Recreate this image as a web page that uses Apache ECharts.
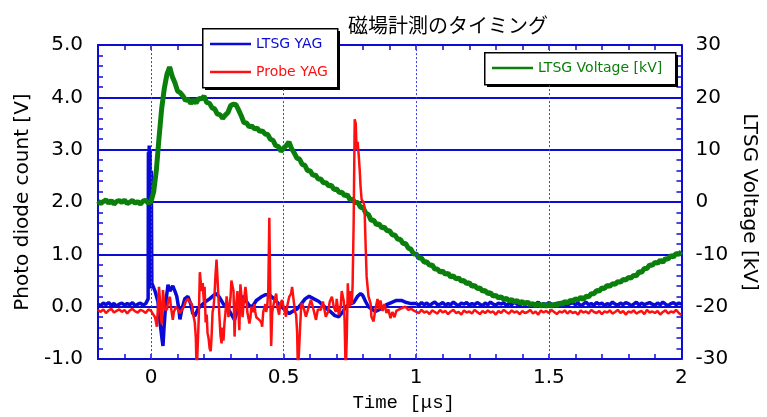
<!DOCTYPE html>
<html>
<head>
<meta charset="utf-8">
<script src="https://cdn.jsdelivr.net/npm/echarts@6/dist/echarts.min.js"></script>
<style>
  html, body { margin: 0; padding: 0; background: #fff; }
  #chart { width: 767px; height: 417px; }
</style>
</head>
<body>
<div id="chart"></div>
<script>
// Oscilloscope traces around the LTSG firing, sampled every 10 ns outside the bursts.
const SAMPLE_STEP = 0.01;            // µs
const TRACE_START = -0.2;            // µs
const TAIL_START = 1.0;              // µs

const timeTickLabels = [0, 0.5, 1, 1.5, 2];
const timeGridLines = [0, 0.5, 1, 1.5];

// LTSG charging voltage [kV], one sample per 10 ns from -0.2 µs to 2.0 µs
const ltsgVoltageKV = [
  0.2, -0.3, 0.1, 0.4, -0.2, 0.3, -0.4, 0.1, 0.3, -0.1, 0.4, -0.3, 0.0, 0.3, -0.2, 0.1, -0.4, 0.2, 0.3, -0.2, 0.1,
  2.0, 6.1, 12.2, 17.8, 21.7, 24.4, 25.8, 24.0, 22.8, 21.2,
  20.9, 20.3, 19.4, 19.7, 18.8, 19.5, 18.9, 19.8, 19.7, 20.2,
  19.0, 18.9, 18.0, 17.8, 16.8, 16.7, 16.0, 16.6, 17.1, 18.4,
  18.7, 18.6, 17.6, 16.5, 15.2, 15.1, 14.4, 14.5, 14.0, 14.1,
  13.5, 13.6, 13.0, 12.9, 12.0, 11.8, 10.8, 10.6, 9.7, 10.3,
  10.8, 11.5, 10.2, 9.4, 8.4, 8.2, 7.2, 7.0, 6.0, 6.0,
  5.1, 5.2, 4.4, 4.4, 3.7, 3.7, 3.1, 3.2, 2.4, 2.5,
  1.8, 1.9, 1.2, 1.4, 0.5, 0.5, -0.1, -0.1, -1.0, -1.1,
  -2.1, -2.4, -3.5, -3.5, -4.3, -4.2, -4.9, -4.8, -5.5, -5.5,
  -6.3, -6.3, -7.1, -7.1, -7.9, -7.9, -8.8, -9.0, -9.9, -9.9,
  -10.7, -10.7, -11.5, -11.4, -12.1, -12.0, -12.8, -12.8, -13.4, -13.2,
  -13.8, -13.6, -14.3, -14.1, -14.7, -14.5, -15.1, -15.0, -15.6, -15.4,
  -16.1, -15.9, -16.5, -16.4, -17.0, -16.9, -17.5, -17.3, -18.0, -17.8,
  -18.3, -18.1, -18.6, -18.4, -18.9, -18.6, -19.1, -18.8, -19.3, -19.0,
  -19.5, -19.1, -19.6, -19.4, -19.8, -19.4, -19.9, -19.5, -19.9, -19.5,
  -19.9, -19.5, -19.8, -19.3, -19.5, -19.0, -19.3, -18.8, -18.9, -18.5,
  -18.7, -18.2, -18.6, -18.0, -18.1, -17.5, -17.5, -16.9, -17.0, -16.4,
  -16.5, -15.9, -16.1, -15.6, -15.7, -15.2, -15.3, -14.8, -14.9, -14.4,
  -14.5, -14.0, -14.1, -13.3, -13.4, -12.7, -12.7, -12.0, -12.1, -11.5,
  -11.7, -11.1, -11.5, -10.8, -10.9, -10.2, -10.5, -9.8, -10.0, -9.5
];

// LTSG YAG photodiode [V]: pre-trigger samples (-0.20 .. -0.02 µs)
const ltsgYagPre = [0.05, 0.02, 0.07, 0.04, 0.08, 0.03, 0.06, 0.01, 0.05, 0.07, 0.03, 0.06, 0.04, 0.08, 0.02, 0.05, 0.07, 0.03, 0.06];
// LTSG YAG photodiode [V]: laser pulse and ringing, [time µs, volts]
const ltsgYagBurst = [
  [-0.015, 0.06], [-0.011, 0.15], [-0.010, 2.95], [-0.008, 0.4], [-0.007, 3.08], [-0.005, 0.5], [-0.003, 3.0], [-0.001, 0.35], [0.001, 2.6], [0.003, 0.45],
  [0.006, 0.42], [0.015, 0.3], [0.026, 0.1], [0.034, -0.3], [0.041, -0.6], [0.045, -0.75], [0.049, -0.4], [0.056, 0.1], [0.064, 0.42], [0.071, 0.3],
  [0.082, 0.4], [0.090, 0.3], [0.097, 0.2], [0.105, -0.05], [0.109, -0.24], [0.116, -0.05], [0.127, 0.15], [0.139, 0.2], [0.150, 0.05], [0.157, -0.12],
  [0.165, -0.18], [0.176, -0.05], [0.184, 0.0], [0.195, 0.05], [0.206, 0.1], [0.221, 0.15], [0.236, 0.22], [0.247, 0.25], [0.258, 0.18], [0.273, 0.05],
  [0.285, 0.0], [0.300, -0.12], [0.315, -0.25], [0.326, -0.05], [0.337, 0.1], [0.345, 0.2], [0.360, 0.1], [0.371, 0.02], [0.382, 0.0], [0.397, 0.12],
  [0.416, 0.19], [0.431, 0.23], [0.446, 0.23], [0.464, 0.15], [0.483, 0.05], [0.502, -0.05], [0.521, -0.13], [0.536, -0.08], [0.551, -0.04], [0.566, 0.05],
  [0.581, 0.15], [0.596, 0.2], [0.614, 0.15], [0.633, 0.1], [0.648, 0.03], [0.663, -0.04], [0.678, -0.1], [0.693, -0.17], [0.708, -0.19], [0.723, -0.1],
  [0.734, 0.0], [0.749, 0.05], [0.764, 0.08], [0.779, 0.2], [0.790, 0.25], [0.798, 0.22], [0.809, 0.1], [0.820, 0.0], [0.831, -0.04], [0.846, -0.09],
  [0.858, -0.06], [0.873, -0.02], [0.888, 0.04], [0.906, 0.08], [0.925, 0.12], [0.944, 0.12], [0.963, 0.08], [0.981, 0.06]
];
// LTSG YAG photodiode [V]: 1.00 .. 2.00 µs
const ltsgYagTail = [
  0.06, 0.03, 0.08, 0.04, 0.07, 0.02, 0.06, 0.09, 0.04, 0.05,
  0.08, 0.03, 0.06, 0.04, 0.09, 0.05, 0.02, 0.07, 0.05, 0.08,
  0.03, 0.06, 0.04, 0.08, 0.05, 0.02, 0.07, 0.04, 0.09, 0.05,
  0.03, 0.07, 0.05, 0.08, 0.02, 0.06, 0.04, 0.09, 0.05, 0.03,
  0.07, 0.04, 0.08, 0.06, 0.02, 0.05, 0.09, 0.03, 0.06, 0.04,
  0.08, 0.05, 0.02, 0.07, 0.04, 0.09, 0.05, 0.03, 0.06, 0.08,
  0.04, 0.07, 0.02, 0.05, 0.09, 0.04, 0.06, 0.03, 0.08, 0.05,
  0.07, 0.02, 0.06, 0.04, 0.09, 0.05, 0.03, 0.07, 0.04, 0.08,
  0.06, 0.02, 0.05, 0.09, 0.03, 0.07, 0.04, 0.06, 0.08, 0.05,
  0.03, 0.07, 0.04, 0.09, 0.05, 0.02, 0.06, 0.08, 0.04, 0.07, 0.05
];

// Probe YAG photodiode [V]: pre-trigger samples (-0.20 .. 0.00 µs)
const probeYagPre = [-0.06, -0.1, -0.05, -0.12, -0.07, -0.04, -0.11, -0.08, -0.05, -0.1, -0.06, -0.13, -0.07, -0.04, -0.09, -0.11, -0.06, -0.08, -0.12, -0.05, -0.08];
// Probe YAG photodiode [V]: pickup noise and probe pulse, [time µs, volts]
const probeYagBurst = [
  [0.004, -0.1], [0.007, -0.05], [0.015, -0.2], [0.019, -0.3], [0.022, -0.38], [0.026, 0.0], [0.030, 0.38], [0.034, 0.1], [0.037, -0.2], [0.041, -0.34],
  [0.045, 0.32], [0.049, 0.1], [0.052, -0.05], [0.060, -0.06], [0.064, 0.1], [0.071, 0.19], [0.075, 0.0], [0.082, -0.25], [0.086, -0.1], [0.094, 0.0],
  [0.101, -0.05], [0.109, -0.12], [0.116, -0.15], [0.124, 0.0], [0.131, 0.1], [0.139, 0.15], [0.146, 0.17], [0.154, 0.05], [0.157, -0.1], [0.165, -0.3],
  [0.169, -0.6], [0.172, -1.3], [0.176, -1.3], [0.180, -0.2], [0.184, 0.66], [0.187, 0.5], [0.191, 0.3], [0.195, 0.45], [0.199, 0.1], [0.202, 0.38],
  [0.206, -0.3], [0.210, -0.15], [0.213, -0.5], [0.217, -0.6], [0.221, -0.8], [0.225, -0.85], [0.228, -0.6], [0.232, -0.1], [0.236, 0.0], [0.240, 0.3],
  [0.243, 0.6], [0.247, 0.9], [0.251, 0.5], [0.255, 0.1], [0.258, -0.2], [0.262, -0.55], [0.266, -0.7], [0.270, -0.4], [0.273, -0.65], [0.277, -0.3],
  [0.281, -0.1], [0.285, 0.2], [0.288, 0.05], [0.292, -0.2], [0.296, 0.0], [0.300, 0.2], [0.303, 0.5], [0.307, 0.53], [0.311, 0.3], [0.315, -0.57],
  [0.318, -0.1], [0.322, 0.1], [0.326, 0.3], [0.330, -0.15], [0.333, -0.45], [0.337, 0.43], [0.341, 0.2], [0.345, -0.2], [0.348, 0.0], [0.352, 0.19],
  [0.356, 0.38], [0.360, 0.2], [0.363, -0.1], [0.371, -0.32], [0.375, -0.2], [0.378, 0.0], [0.386, -0.1], [0.390, 0.05], [0.393, -0.1], [0.397, -0.2],
  [0.401, -0.19], [0.408, -0.25], [0.416, -0.3], [0.419, -0.38], [0.423, -0.1], [0.431, 0.05], [0.434, -0.1], [0.438, 0.0], [0.442, 0.3], [0.446, 1.7],
  [0.449, 0.5], [0.453, -0.75], [0.457, -0.1], [0.464, 0.1], [0.472, 0.25], [0.476, 0.0], [0.483, -0.15], [0.487, 0.05], [0.494, 0.13], [0.502, -0.05],
  [0.509, -0.19], [0.513, 0.0], [0.521, 0.19], [0.528, 0.25], [0.532, 0.38], [0.536, 0.2], [0.543, -0.1], [0.547, -0.15], [0.551, -0.5], [0.554, -1.3],
  [0.558, -1.3], [0.562, -0.4], [0.566, 0.0], [0.569, 0.07], [0.577, -0.05], [0.584, -0.19], [0.592, -0.05], [0.603, 0.13], [0.610, 0.0], [0.622, -0.25],
  [0.629, -0.05], [0.640, -0.06], [0.648, 0.1], [0.659, -0.19], [0.667, -0.1], [0.674, 0.1], [0.682, 0.19], [0.689, 0.0], [0.697, -0.1], [0.700, 0.15],
  [0.708, -0.15], [0.715, 0.0], [0.719, 0.3], [0.727, 0.1], [0.730, -0.3], [0.734, -1.3], [0.738, -0.6], [0.742, 0.45], [0.745, 0.1], [0.749, 0.0],
  [0.753, 0.3], [0.757, 0.05], [0.760, 0.4], [0.764, 1.6], [0.768, 3.58], [0.772, 3.5], [0.775, 3.0], [0.779, 3.15], [0.783, 2.9], [0.787, 2.6],
  [0.790, 2.3], [0.794, 2.05], [0.801, 2.0], [0.805, 1.9], [0.809, 1.2], [0.813, 0.57], [0.820, 0.2], [0.828, 0.06], [0.831, -0.19], [0.839, -0.28],
  [0.846, -0.05], [0.854, 0.15], [0.861, -0.05], [0.865, 0.12], [0.873, -0.08], [0.880, 0.05], [0.888, -0.12], [0.895, -0.05], [0.903, -0.22], [0.910, -0.1],
  [0.918, -0.2], [0.925, -0.08], [0.936, -0.05], [0.948, -0.02], [0.959, 0.0], [0.970, -0.06], [0.981, -0.04], [0.993, -0.08]
];
// Probe YAG photodiode [V]: 1.00 .. 2.00 µs
const probeYagTail = [
  -0.08, -0.12, -0.06, -0.11, -0.09, -0.14, -0.07, -0.1, -0.13, -0.06,
  -0.11, -0.08, -0.14, -0.09, -0.06, -0.12, -0.1, -0.15, -0.07, -0.11,
  -0.09, -0.13, -0.06, -0.1, -0.14, -0.08, -0.12, -0.07, -0.11, -0.09,
  -0.15, -0.08, -0.12, -0.06, -0.1, -0.13, -0.07, -0.11, -0.09, -0.14,
  -0.08, -0.12, -0.1, -0.06, -0.13, -0.09, -0.15, -0.07, -0.11, -0.08,
  -0.12, -0.06, -0.1, -0.14, -0.09, -0.11, -0.07, -0.13, -0.08, -0.12,
  -0.1, -0.15, -0.07, -0.11, -0.09, -0.13, -0.06, -0.1, -0.12, -0.08,
  -0.14, -0.09, -0.11, -0.07, -0.13, -0.1, -0.06, -0.12, -0.08, -0.15,
  -0.09, -0.11, -0.07, -0.13, -0.1, -0.08, -0.14, -0.06, -0.11, -0.09,
  -0.12, -0.08, -0.15, -0.1, -0.07, -0.13, -0.09, -0.11, -0.06, -0.12, -0.16
];

// Attach sample times to a uniformly sampled run of values.
function sampled(start, values) {
  return values.map((v, i) => [Math.round((start + i * SAMPLE_STEP) * 1000) / 1000, v]);
}

const voltageData = sampled(TRACE_START, ltsgVoltageKV);
const ltsgYagData = sampled(TRACE_START, ltsgYagPre).concat(ltsgYagBurst, sampled(TAIL_START, ltsgYagTail));
const probeYagData = sampled(TRACE_START, probeYagPre).concat(probeYagBurst, sampled(TAIL_START, probeYagTail));

const AXIS_BLUE = '#0c0cd2';
const GRID_DOT = '#3a3af5';
const BLUE = '#0a0ad6';
const RED = '#ff1010';
const GREEN = '#0b7f0b';
const SANS = 'DejaVu Sans';
const CLEAR = 'rgba(0,0,0,0)';

const chart = echarts.init(document.getElementById('chart'), null, { renderer: 'canvas' });

const legendCommon = {
  backgroundColor: CLEAR,
  borderWidth: 0,
  icon: 'rect',
  itemWidth: 41,
  itemHeight: 2.5,
  selectedMode: false,
  z: 10,
  textStyle: { fontFamily: SANS, fontSize: 14 }
};

// Framed legend boxes with a hard drop shadow.
function legendFrame(x, y, w, h) {
  return [
    { type: 'rect', left: x + 3, top: y + 3, z: 5, shape: { width: w, height: h }, style: { fill: '#000' } },
    { type: 'rect', left: x, top: y, z: 6, shape: { width: w, height: h }, style: { fill: '#fff', stroke: '#000', lineWidth: 1.5 } }
  ];
}

const axisBase = {
  axisLine: { onZero: false, lineStyle: { color: AXIS_BLUE, width: 2 } },
  axisTick: { inside: true, length: 5, lineStyle: { color: AXIS_BLUE, width: 1.5 } }
};

chart.setOption({
  animation: false,
  backgroundColor: '#fff',
  title: {
    text: '磁場計測のタイミング',
    left: 343,
    top: 10,
    textStyle: { fontFamily: 'Noto Sans CJK JP', fontSize: 20, fontWeight: 'normal', color: '#000' }
  },
  graphic: legendFrame(202, 28, 135, 59).concat(legendFrame(484, 52, 191, 32)),
  legend: [
    Object.assign({}, legendCommon, {
      left: 202,
      top: 28,
      orient: 'vertical',
      padding: [9, 8, 9, 8],
      itemGap: 14,
      data: [
        { name: 'LTSG YAG', textStyle: { color: BLUE } },
        { name: 'Probe YAG', textStyle: { color: RED } }
      ]
    }),
    Object.assign({}, legendCommon, {
      left: 484,
      top: 52,
      padding: [9, 6, 9, 8],
      data: [{ name: 'LTSG Voltage [kV]', textStyle: { color: GREEN } }]
    })
  ],
  grid: { left: 98, right: 82, top: 45, bottom: 54, containLabel: false },
  xAxis: [
    Object.assign({}, axisBase, {
      type: 'value',
      min: TRACE_START,
      max: 2,
      interval: 0.1,
      position: 'bottom',
      name: 'Time [μs]',
      nameLocation: 'middle',
      nameGap: 33,
      nameTextStyle: { fontFamily: 'Liberation Mono', fontSize: 19, color: '#000', padding: [0, 0, 0, 28] },
      axisLabel: {
        margin: 9,
        fontFamily: SANS,
        fontSize: 20,
        color: '#000',
        showMinLabel: true,
        showMaxLabel: true,
        formatter: (v) => {
          const hit = timeTickLabels.find((t) => Math.abs(t - v) < 1e-6);
          return hit === undefined ? '' : String(hit);
        }
      },
      splitLine: { show: false }
    }),
    Object.assign({}, axisBase, {
      type: 'value',
      min: TRACE_START,
      max: 2,
      interval: 0.1,
      position: 'top',
      axisLabel: { show: false },
      splitLine: { show: false }
    })
  ],
  yAxis: [
    Object.assign({}, axisBase, {
      type: 'value',
      min: -1,
      max: 5,
      interval: 1,
      position: 'left',
      name: 'Photo diode count [V]',
      nameLocation: 'middle',
      nameGap: 62,
      nameTextStyle: { fontFamily: SANS, fontSize: 20, color: '#000' },
      minorTick: { show: true, splitNumber: 5, length: 5, lineStyle: { color: AXIS_BLUE, width: 1.5 } },
      axisLabel: { margin: 15, fontFamily: SANS, fontSize: 20, color: '#000', formatter: (v) => v.toFixed(1) },
      splitLine: { show: true, lineStyle: { color: AXIS_BLUE, width: 2 } }
    }),
    Object.assign({}, axisBase, {
      type: 'value',
      min: -30,
      max: 30,
      interval: 10,
      position: 'right',
      name: 'LTSG Voltage [kV]',
      nameLocation: 'middle',
      nameGap: 56,
      nameRotate: -90,
      nameTextStyle: { fontFamily: SANS, fontSize: 20, color: '#000' },
      minorTick: { show: true, splitNumber: 5, length: 5, lineStyle: { color: AXIS_BLUE, width: 1.5 } },
      axisLabel: { margin: 14, fontFamily: SANS, fontSize: 20, color: '#000' },
      splitLine: { show: false }
    })
  ],
  series: [
    {
      // dotted time grid at the labelled ticks
      name: 'time grid',
      type: 'line',
      xAxisIndex: 0,
      yAxisIndex: 0,
      data: [],
      silent: true,
      markLine: {
        silent: true,
        symbol: ['none', 'none'],
        label: { show: false },
        lineStyle: { color: GRID_DOT, type: [2, 2], width: 1 },
        emphasis: { disabled: true },
        data: timeGridLines.map((t) => ({ xAxis: t }))
      }
    },
    {
      name: 'LTSG YAG',
      type: 'line',
      xAxisIndex: 0,
      yAxisIndex: 0,
      data: ltsgYagData,
      showSymbol: false,
      color: BLUE,
      lineStyle: { color: BLUE, width: 3.5 }
    },
    {
      name: 'LTSG Voltage [kV]',
      type: 'line',
      xAxisIndex: 0,
      yAxisIndex: 1,
      data: voltageData,
      showSymbol: false,
      color: GREEN,
      lineStyle: { color: GREEN, width: 5 }
    },
    {
      name: 'Probe YAG',
      type: 'line',
      xAxisIndex: 0,
      yAxisIndex: 0,
      data: probeYagData,
      showSymbol: false,
      color: RED,
      lineStyle: { color: RED, width: 2.5 }
    }
  ]
});
</script>
</body>
</html>
